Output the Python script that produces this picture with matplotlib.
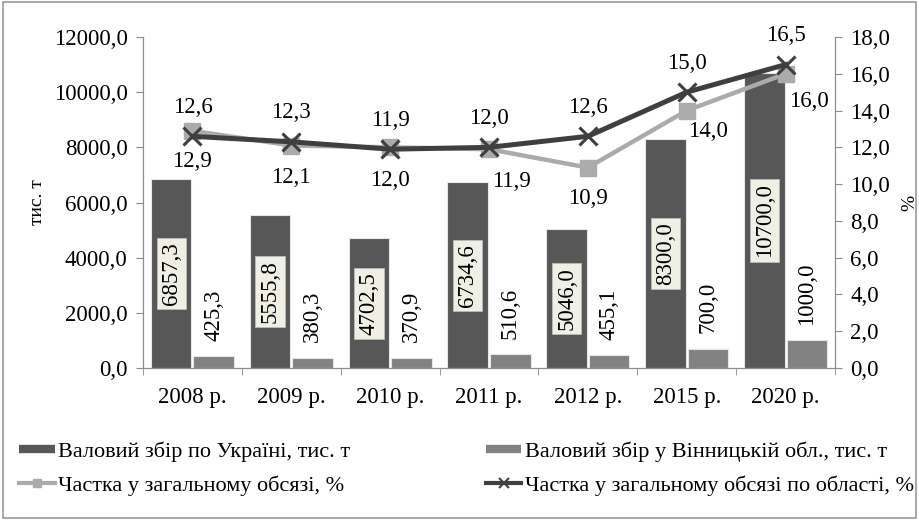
import matplotlib.pyplot as plt
import numpy as np
from matplotlib.lines import Line2D
from matplotlib.patches import Rectangle

plt.rcParams['font.family'] = ['Liberation Serif', 'DejaVu Serif']

years = ['2008 р.', '2009 р.', '2010 р.', '2011 р.', '2012 р.', '2015 р.', '2020 р.']
ukraine = [6857.3, 5555.8, 4702.5, 6734.6, 5046.0, 8300.0, 10700.0]
vinnytsia = [425.3, 380.3, 370.9, 510.6, 455.1, 700.0, 1000.0]
share_total = [12.9, 12.1, 12.0, 11.9, 10.9, 14.0, 16.0]
share_region = [12.6, 12.3, 11.9, 12.0, 12.6, 15.0, 16.5]

lab_ukr = 'Валовий збір по Україні, тис. т'
lab_vin = 'Валовий збір у Вінницькій обл., тис. т'
lab_tot = 'Частка у загальному обсязі, %'
lab_reg = 'Частка у загальному обсязі по області, %'


def fmt(v):
    return f'{v:.1f}'.replace('.', ',')


x = np.arange(len(years))
w = 0.41
fs = 16.5
dark = '#575757'
mid = '#828282'
light = '#ababab'
line_dark = '#3f3f3f'
axis_c = '#8c8c8c'

fig = plt.figure(figsize=(9.19, 5.2), dpi=100)
fig.patches.append(Rectangle((0.003, 0.004), 0.994, 0.992, transform=fig.transFigure,
                             fill=False, edgecolor='#9a9a9a', linewidth=1.2))
ax = fig.add_axes([0.1556, 0.2923, 0.753, 0.6365])
ax2 = ax.twinx()

ax.bar(x - w / 2 - 0.01, ukraine, w, color=dark, edgecolor='#e6e6e6', linewidth=0.8)
ax.bar(x + w / 2 + 0.01, vinnytsia, w, color=mid, edgecolor='#e6e6e6', linewidth=0.8)

for xi, v in zip(x, ukraine):
    ax.text(xi - w / 2 - 0.01, v / 2, fmt(v), rotation=90, ha='center', va='center',
            fontsize=fs,
            bbox=dict(boxstyle='square,pad=0.18', facecolor='#efefe6', edgecolor='#bbbbbb',
                      linewidth=0.6))
for xi, v in zip(x, vinnytsia):
    ax.annotate(fmt(v), (xi + w / 2 + 0.01, v), xytext=(0, 11), textcoords='offset points',
                rotation=90, ha='center', va='bottom', fontsize=fs)

ax2.plot(x, share_total, color=light, lw=3.2, marker='s', ms=11)
ax2.plot(x, share_region, color=line_dark, lw=3.6, marker='x', ms=13, mew=2.2)

# label offsets (points)
off_total = [(0, -22), (0, -23), (0, -24), (16, -23), (0, -22), (15, -15), (17, -20)]
for xi, v, (dx, dy) in zip(x, share_total, off_total):
    ax2.annotate(fmt(v), (xi, v), xytext=(dx, dy), textcoords='offset points',
                 ha='center', va='center', fontsize=fs)
for xi, v in zip(x, share_region):
    ax2.annotate(fmt(v), (xi, v), xytext=(0, 21), textcoords='offset points',
                 ha='center', va='center', fontsize=fs)

ax.set_xlim(-0.5, len(years) - 0.5)
ax.set_ylim(0, 12000)
ax2.set_ylim(0, 18)
ax.set_yticks(np.arange(0, 12001, 2000))
ax.set_yticklabels([fmt(v) for v in np.arange(0, 12001, 2000)])
ax2.set_yticks(np.arange(0, 18.1, 2))
ax2.set_yticklabels([fmt(v) for v in np.arange(0, 18.1, 2)])
ax.set_xticks(x)
ax.set_xticklabels(years)
ax.set_xticks(np.arange(-0.5, len(years)), minor=True)
ax.tick_params(axis='x', which='major', length=0, labelsize=fs, pad=14)
ax.tick_params(axis='x', which='minor', length=5, color=axis_c)
ax.tick_params(axis='y', length=5, color=axis_c, labelsize=fs, pad=6)
ax2.tick_params(axis='y', length=5, color=axis_c, labelsize=fs, pad=6)

for a in (ax, ax2):
    a.spines['top'].set_visible(False)
    for s in ('left', 'right', 'bottom'):
        a.spines[s].set_color(axis_c)

ax.set_ylabel('тис. т', fontsize=14, labelpad=6)
ax2.set_ylabel('%', fontsize=14, labelpad=8)

handles = [
    Line2D([], [], color=dark, lw=6, solid_capstyle='butt'),
    Line2D([], [], color=light, lw=3, marker='s', ms=6),
    Line2D([], [], color=mid, lw=6, solid_capstyle='butt'),
    Line2D([], [], color=line_dark, lw=3, marker='x', ms=7, mew=1.5),
]
fig.legend(handles=handles, labels=[lab_ukr, lab_tot, lab_vin, lab_reg],
           loc='upper left', bbox_to_anchor=(0.021, 0.152),
           ncol=2, frameon=False, fontsize=16, handlelength=1.6, handletextpad=0.15,
           columnspacing=6.1, borderaxespad=0.0, borderpad=0.0, labelspacing=0.62)

fig.savefig('out.png', dpi=100)
